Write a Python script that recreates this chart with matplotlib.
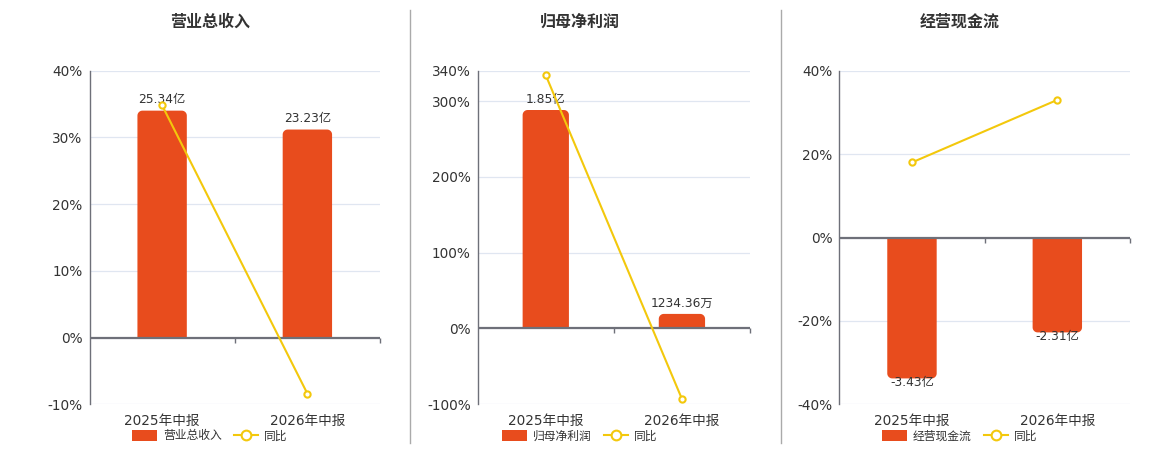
import matplotlib
matplotlib.use("Agg")
import numpy as np
import matplotlib.pyplot as plt
from matplotlib.patches import Polygon, Patch
from matplotlib.lines import Line2D

plt.rcParams['font.family'] = ['DejaVu Sans', 'Noto Sans CJK SC']

# Data
periods = ['2025年中报', '2026年中报']

titles = ['营业总收入', '归母净利润', '经营现金流']

revenue = [25.34, 23.23]          # 亿
revenue_labels = ['25.34亿', '23.23亿']
revenue_yoy = [34.8, -8.4]        # %

profit = [18500, 1234.36]         # 万
profit_labels = ['1.85亿', '1234.36万']
profit_yoy = [334.0, -92.9]

cash = [-3.43, -2.31]             # 亿
cash_labels = ['-3.43亿', '-2.31亿']
cash_yoy = [18.0, 33.0]

yticks_list = [[-10, 0, 10, 20, 30, 40],
               [-100, 0, 100, 200, 300, 340],
               [-40, -20, 0, 20, 40]]
# bar units per percent point (hidden bar scale)
bar_scale = [0.745, 64.2, 0.1015]

bar_color = '#E84C1D'
line_color = '#F3C80C'
text_color = '#333333'
axis_color = '#6E7079'
grid_color = '#E0E6F1'

W, H = 1160, 450
fig = plt.figure(figsize=(W / 100, H / 100), dpi=100)

# axes boxes in pixels: left, right, top, bottom
boxes = [(89.5, 380, 70.7, 404.3),
         (477.7, 750, 70.7, 404.3),
         (839.3, 1130, 70.7, 404.3)]
centers = [210, 580, 960]


def rounded_bar(ax, x, w, h, color, r_px=5):
    # bar with rounded corners at its outer end only
    p0 = ax.transData.transform((0, 0))
    p1 = ax.transData.transform((1, 1))
    rx = r_px / (p1[0] - p0[0])
    ry = r_px / (p1[1] - p0[1])
    sgn = 1 if h >= 0 else -1
    ry = min(ry, abs(h)) * sgn
    a = np.linspace(0, np.pi / 2, 12)
    # right corner then left corner
    right = [(x + w - rx + rx * np.cos(t), h - ry + ry * np.sin(t)) for t in a]
    left = [(x + rx - rx * np.sin(t), h - ry + ry * np.cos(t)) for t in a]
    pts = [(x, 0), (x + w, 0)] + right + left
    ax.add_patch(Polygon(pts, closed=True, fc=color, ec='none', zorder=2))


series = [(revenue, revenue_labels, revenue_yoy),
          (profit, profit_labels, profit_yoy),
          (cash, cash_labels, cash_yoy)]

for i, (vals, labels, yoy) in enumerate(series):
    l, r, t, b = boxes[i]
    rect = [l / W, 1 - b / H, (r - l) / W, (b - t) / H]
    ticks = yticks_list[i]
    lo, hi = ticks[0], ticks[-1]

    # base axes: grid, ticks, labels
    ax = fig.add_axes(rect)
    ax.set_xlim(-0.5, 1.5)
    ax.set_ylim(lo, hi)
    ax.set_yticks(ticks)
    ax.set_yticklabels([f'{v}%' for v in ticks])
    ax.set_xticks([0, 1])
    ax.set_xticklabels(periods)
    ax.tick_params(axis='both', length=0, labelsize=9.8, colors=text_color)
    ax.tick_params(axis='x', pad=7)
    ax.tick_params(axis='y', pad=5)
    for v in ticks:
        ax.axhline(v, color=grid_color, lw=0.9, zorder=0)
    for s in ['top', 'right', 'bottom']:
        ax.spines[s].set_visible(False)
    ax.spines['left'].set_color(axis_color)
    ax.spines['left'].set_linewidth(1)

    # bars on a hidden scale
    k = bar_scale[i]
    axb = ax.twinx()
    axb.set_xlim(-0.5, 1.5)
    axb.set_ylim(lo * k, hi * k)
    axb.set_axis_off()
    bw = 0.34
    for j, v in enumerate(vals):
        rounded_bar(axb, j - bw / 2, bw, v, bar_color)
        off = 11 if v > 0 else -4
        axb.annotate(labels[j], (j, v), xytext=(0, off), textcoords='offset pixels',
                     ha='center', va='center', fontsize=8.8, color=text_color)

    # line for yoy
    axl = ax.twinx()
    axl.set_xlim(-0.5, 1.5)
    axl.set_ylim(lo, hi)
    axl.set_axis_off()
    axl.axhline(0, color=axis_color, lw=1.6, zorder=1)
    tick_len = (hi - lo) / (b - t) * 5
    axl.vlines([0.5, 1.5], 0, -tick_len, color=axis_color, lw=1, clip_on=False)
    axl.plot(range(len(yoy)), yoy, color=line_color, lw=1.5, marker='o',
             markersize=4.5, markerfacecolor='white', markeredgecolor=line_color,
             markeredgewidth=1.5, zorder=3)

    fig.text(centers[i] / W, 1 - 22 / H, titles[i], ha='center', va='center',
             fontsize=11.5, fontweight='bold', color=text_color)

    handles = [Patch(facecolor=bar_color, edgecolor='none'),
               Line2D([0], [0], color=line_color, lw=1.5, marker='o', markersize=7,
                      markerfacecolor='white', markeredgecolor=line_color,
                      markeredgewidth=1.5)]
    fig.legend(handles, [titles[i], '同比'], loc='center',
               bbox_to_anchor=(centers[i] / W, 1 - 436 / H), ncol=2, frameon=False,
               fontsize=8.5, handlelength=2.1, handleheight=1.1, handletextpad=0.5,
               columnspacing=1.0, labelcolor=text_color, borderpad=0)

# separators
for xs in [410, 781]:
    fig.add_artist(Line2D([xs / W, xs / W], [1 - 10 / H, 1 - 443 / H],
                          color='#AAAAAA', lw=1))

fig.savefig('out.png', dpi=100)
